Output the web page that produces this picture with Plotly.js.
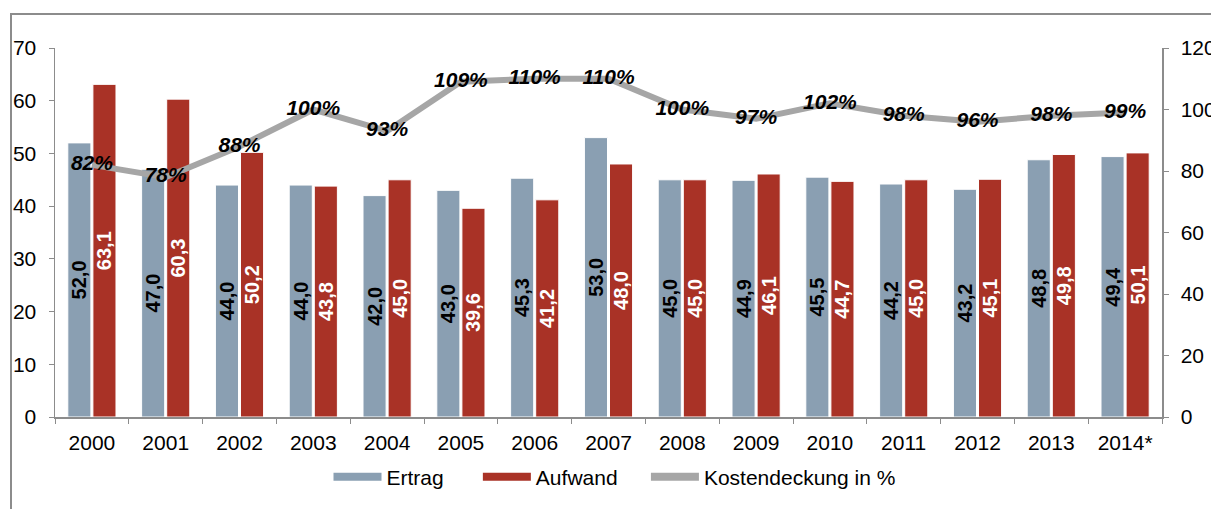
<!DOCTYPE html>
<html>
<head>
<meta charset="utf-8">
<script src="https://cdn.plot.ly/plotly-3.0.1.min.js"></script>
<style>
html,body{margin:0;padding:0;background:#fff;overflow:hidden;}
#frame{position:absolute;left:10px;top:13px;width:1400px;height:700px;border:2px solid #8c8c8c;box-sizing:border-box;}
#chart{position:absolute;left:0;top:0;width:1211px;height:509px;}
</style>
</head>
<body>
<div id="frame"></div>
<div id="chart"></div>
<script>
var years = ["2000","2001","2002","2003","2004","2005","2006","2007","2008","2009","2010","2011","2012","2013","2014*"];
var ertrag = [52.0,47.0,44.0,44.0,42.0,43.0,45.3,53.0,45.0,44.9,45.5,44.2,43.2,48.8,49.4];
var aufwand = [63.1,60.3,50.2,43.8,45.0,39.6,41.2,48.0,45.0,46.1,44.7,45.0,45.1,49.8,50.1];
var kostendeckung = [82,78,88,100,93,109,110,110,100,97,102,98,96,98,99];
var seriesNames = ["Ertrag", "Aufwand", "Kostendeckung in %"];

var cErtrag = "#8a9fb2", cAufwand = "#a93226", cLine = "#a6a6a6";
function fmt(v){ return v.toFixed(1).replace(".", ","); }
var NB = "\u00a0";

var FAM = "Liberation Sans, Arial, sans-serif";
var barFont = {family:FAM, size:20, weight:"bold"};

var traces = [
  {type:"bar", x:years, y:ertrag, name:seriesNames[0], showlegend:false,
   marker:{color:cErtrag, line:{color:"#ffffff", width:1}},
   text:ertrag.map(fmt), textposition:"inside", insidetextanchor:"middle", textangle:-90,
   constraintext:"none", cliponaxis:false,
   textfont:Object.assign({color:"#000000"}, barFont), hoverinfo:"skip"},
  {type:"bar", x:years, y:aufwand, name:seriesNames[1], showlegend:false,
   marker:{color:cAufwand, line:{color:"#ffffff", width:1}},
   text:aufwand.map(fmt), textposition:"inside", insidetextanchor:"middle", textangle:-90,
   constraintext:"none", cliponaxis:false,
   textfont:Object.assign({color:"#ffffff"}, barFont), hoverinfo:"skip"},
  {type:"scatter", mode:"lines+text", x:years, y:kostendeckung, yaxis:"y2",
   name:seriesNames[2], showlegend:false,
   line:{color:cLine, width:6}, cliponaxis:false,
   text:kostendeckung.map(function(v){return v+"%";}), textposition:"middle center",
   textfont:{family:FAM, size:21, weight:"bold", style:"italic", color:"#000"},
   hoverinfo:"skip"},
  // legend entries (styled like the reference's wide swatches)
  {type:"scatter", mode:"lines", x:[null], y:[null], name:seriesNames[0] + NB.repeat(5), line:{color:cErtrag, width:8}, hoverinfo:"skip"},
  {type:"scatter", mode:"lines", x:[null], y:[null], name:seriesNames[1] + NB.repeat(4), line:{color:cAufwand, width:8}, hoverinfo:"skip"},
  {type:"scatter", mode:"lines", x:[null], y:[null], name:seriesNames[2], yaxis:"y2", line:{color:cLine, width:8}, hoverinfo:"skip"}
];

var axFont = {family:FAM, size:21, color:"#000"};
var layout = {
  width:1211, height:509,
  margin:{l:55, r:49, t:48, b:92, autoexpand:false},
  paper_bgcolor:"rgba(0,0,0,0)", plot_bgcolor:"rgba(0,0,0,0)",
  barmode:"group", bargap:0.32, bargroupgap:0.08,
  showlegend:true,
  legend:{orientation:"h", xref:"container", yref:"container", x:(605.5+9)/1211, xanchor:"center", y:1-477/509, yanchor:"middle",
          font:{family:FAM, size:21, color:"#000"},
          itemwidth:48, traceorder:"normal", bgcolor:"rgba(0,0,0,0)"},
  xaxis:{type:"category", range:[-0.5, years.length-0.5], autorange:false,
         tickson:"boundaries", ticks:"outside", ticklen:5, tickcolor:"#8c8c8c",
         showline:true, linecolor:"#8c8c8c", linewidth:1.5, showgrid:false, zeroline:false, automargin:false,
         tickfont:axFont, ticklabelstandoff:6, fixedrange:true},
  yaxis:{range:[0,70], dtick:10, ticks:"outside", ticklen:5, tickcolor:"#8c8c8c",
         showline:true, linecolor:"#8c8c8c", linewidth:1.5, showgrid:false, zeroline:false, automargin:false,
         tickfont:axFont, ticklabelstandoff:8, fixedrange:true},
  yaxis2:{range:[0,120], dtick:20, overlaying:"y", side:"right", ticks:"outside", ticklen:5, tickcolor:"#8c8c8c",
          showline:true, linecolor:"#8c8c8c", linewidth:1.5, showgrid:false, zeroline:false, automargin:false,
          tickfont:axFont, ticklabelstandoff:8, fixedrange:true}
};

Plotly.newPlot("chart", traces, layout, {displayModeBar:false, staticPlot:true});
</script>
</body>
</html>
